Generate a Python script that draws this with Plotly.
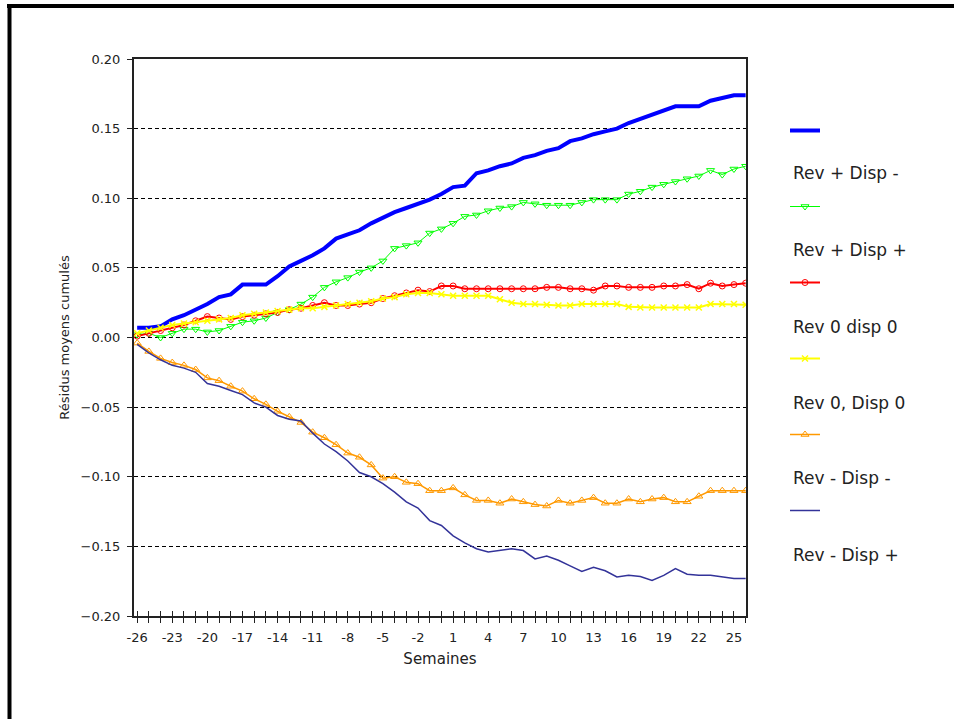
import plotly.graph_objects as go

# ---------------- data ----------------
weeks = list(range(-26, 27))

tick_weeks = list(range(-26, 27))
tick_labels = [str(w) if (w + 26) % 3 == 0 else "" for w in tick_weeks]

y_ticks = [-0.20, -0.15, -0.10, -0.05, 0.00, 0.05, 0.10, 0.15, 0.20]

series_names = ["Rev + Disp -", "Rev + Disp +", "Rev 0 disp 0",
                "Rev 0, Disp 0", "Rev - Disp -", "Rev - Disp +"]

blue_thick = [0.007, 0.007, 0.008, 0.013, 0.016, 0.020, 0.024, 0.029, 0.031, 0.038,
              0.038, 0.038, 0.044, 0.051, 0.055, 0.059, 0.064, 0.071, 0.074, 0.077,
              0.082, 0.086, 0.090, 0.093, 0.096, 0.099, 0.103, 0.108, 0.109, 0.118,
              0.120, 0.123, 0.125, 0.129, 0.131, 0.134, 0.136, 0.141, 0.143, 0.146,
              0.148, 0.150, 0.154, 0.157, 0.160, 0.163, 0.166, 0.166, 0.166, 0.170,
              0.172, 0.174, 0.174]

green = [0.002, 0.003, 0.000, 0.003, 0.006, 0.006, 0.004, 0.005, 0.008, 0.011,
         0.012, 0.014, 0.018, 0.020, 0.024, 0.029, 0.036, 0.040, 0.043, 0.047,
         0.050, 0.055, 0.064, 0.066, 0.068, 0.075, 0.078, 0.082, 0.087, 0.088,
         0.091, 0.093, 0.094, 0.097, 0.096, 0.095, 0.095, 0.095, 0.097, 0.099,
         0.099, 0.099, 0.103, 0.105, 0.108, 0.110, 0.112, 0.114, 0.116, 0.120,
         0.117, 0.121, 0.123]

red = [0.001, 0.003, 0.005, 0.007, 0.009, 0.012, 0.015, 0.014, 0.013, 0.015,
       0.016, 0.017, 0.018, 0.020, 0.021, 0.023, 0.025, 0.023, 0.023, 0.024,
       0.025, 0.028, 0.030, 0.032, 0.034, 0.033, 0.037, 0.037, 0.035, 0.035,
       0.035, 0.035, 0.035, 0.035, 0.035, 0.036, 0.036, 0.035, 0.035, 0.034,
       0.037, 0.037, 0.036, 0.036, 0.036, 0.037, 0.037, 0.038, 0.035, 0.039,
       0.037, 0.038, 0.039]

yellow = [0.003, 0.005, 0.007, 0.009, 0.010, 0.011, 0.012, 0.013, 0.014, 0.016,
          0.017, 0.018, 0.019, 0.020, 0.021, 0.021, 0.022, 0.023, 0.024, 0.025,
          0.026, 0.028, 0.029, 0.031, 0.032, 0.032, 0.031, 0.030, 0.030, 0.030,
          0.030, 0.0275, 0.025, 0.024, 0.024, 0.0235, 0.023, 0.023, 0.024, 0.024,
          0.024, 0.024, 0.022, 0.0215, 0.0215, 0.0215, 0.0215, 0.0215, 0.0215, 0.024,
          0.024, 0.024, 0.0235]

orange = [-0.004, -0.010, -0.015, -0.018, -0.020, -0.023, -0.029, -0.031, -0.035, -0.0385,
          -0.044, -0.048, -0.053, -0.057, -0.061, -0.068, -0.072, -0.077, -0.083, -0.086,
          -0.0915, -0.101, -0.100, -0.104, -0.105, -0.110, -0.110, -0.108, -0.113, -0.117,
          -0.117, -0.119, -0.116, -0.118, -0.120, -0.121, -0.117, -0.119, -0.117, -0.115,
          -0.119, -0.119, -0.116, -0.118, -0.116, -0.115, -0.118, -0.118, -0.114, -0.110,
          -0.110, -0.110, -0.110]

navy = [-0.005, -0.011, -0.016, -0.020, -0.022, -0.025, -0.033, -0.035, -0.038, -0.041,
        -0.047, -0.050, -0.056, -0.0587, -0.060, -0.0687, -0.0765, -0.082, -0.0887, -0.097,
        -0.100, -0.105, -0.111, -0.118, -0.1225, -0.1315, -0.135, -0.1425, -0.1475, -0.1517,
        -0.154, -0.153, -0.1517, -0.153, -0.159, -0.157, -0.160, -0.164, -0.168, -0.165,
        -0.1675, -0.172, -0.1708, -0.1717, -0.1745, -0.1708, -0.166, -0.170, -0.1708, -0.1708,
        -0.172, -0.173, -0.173]

# ---------------- styling ----------------
W, H = 954, 719
L, R, T, B = 134, 746, 59, 616   # plot area in pixels

FONT = "DejaVu Sans"
INK = "#222222"

def px_x(p):
    return (p - L) / (R - L)

def px_y(p):
    return (B - p) / (B - T)

fig = go.Figure()

styles = [
    (blue_thick, dict(color="#0000FF", width=4), None),
    (green, dict(color="#00FF00", width=1), dict(symbol="triangle-down-open", size=7, color="#00FF00")),
    (red, dict(color="#FF0000", width=2), dict(symbol="circle-open", size=6, color="#FF0000")),
    (yellow, dict(color="#FFFF00", width=2), dict(symbol="x-thin-open", size=6, color="#FFFF00", line=dict(width=1.5, color="#FFFF00"))),
    (orange, dict(color="#FF9900", width=1.5), dict(symbol="triangle-up-open", size=7, color="#FF9900")),
    (navy, dict(color="#333399", width=1.5), None),
]

for i, (vals, line, marker) in enumerate(styles):
    kw = dict(x=weeks, y=vals, line=line, name="", legendgroup=f"g{i}",
              showlegend=True, hoverinfo="skip")
    if marker is None:
        kw["mode"] = "lines"
    else:
        kw["mode"] = "lines+markers"
        kw["marker"] = marker
    fig.add_trace(go.Scatter(**kw))

# invisible trace carrying the overlay tick axis
fig.add_trace(go.Scatter(x=weeks, y=blue_thick, xaxis="x2", mode="lines",
                         line=dict(width=0), opacity=0, showlegend=False,
                         hoverinfo="skip"))

xrange_ = [-26.27, 26.03]

fig.update_layout(
    width=W, height=H,
    margin=dict(l=L, r=W - R, t=T, b=H - B, pad=0),
    paper_bgcolor="white", plot_bgcolor="white",
    font=dict(family=FONT, size=12, color=INK),
    xaxis=dict(
        range=xrange_, tickvals=tick_weeks, ticktext=tick_labels,
        ticks="outside", ticklen=5, tickwidth=1, tickcolor=INK,
        ticklabelstandoff=3,
        showline=True, linecolor=INK, linewidth=2, mirror=True,
        showgrid=False, zeroline=False,
        tickfont=dict(family=FONT, size=13, color=INK),
        title=dict(text="Semaines", font=dict(family=FONT, size=15, color=INK), standoff=10),
    ),
    xaxis2=dict(
        range=xrange_, overlaying="x", anchor="y", side="bottom",
        tickvals=tick_weeks, showticklabels=False,
        ticks="inside", ticklen=5, tickwidth=1, tickcolor=INK,
        showline=False, showgrid=False, zeroline=False,
    ),
    yaxis=dict(
        range=[-0.20, 0.20], tickvals=y_ticks, tickformat=".2f",
        ticks="outside", ticklen=5, tickwidth=1, tickcolor=INK,
        ticklabelstandoff=4,
        showline=True, linecolor=INK, linewidth=2, mirror=True,
        showgrid=True, gridcolor="#000000", gridwidth=1, griddash="4px,3px",
        zeroline=False,
        tickfont=dict(family=FONT, size=13, color=INK),
        title=dict(text="Résidus moyens cumulés", font=dict(family=FONT, size=13, color=INK), standoff=8),
    ),
    legend=dict(
        x=px_x(785), y=px_y(116), xanchor="left", yanchor="top",
        bgcolor="rgba(0,0,0,0)", borderwidth=0,
        font=dict(family=FONT, size=12), tracegroupgap=57,
        itemwidth=30, traceorder="grouped",
    ),
)

# legend labels (text sits below each symbol, as in the reference)
label_y = [173, 250, 327, 403, 478, 555]
for name, yy in zip(series_names, label_y):
    fig.add_annotation(text=name, xref="paper", yref="paper",
                       x=px_x(791), y=px_y(yy), xanchor="left", yanchor="middle",
                       showarrow=False, font=dict(family=FONT, size=17, color=INK))

# outer frame (top and left edges of the picture)
fig.add_shape(type="line", xref="paper", yref="paper",
              x0=px_x(7), x1=px_x(W + 5), y0=px_y(6), y1=px_y(6),
              line=dict(color="black", width=4))
fig.add_shape(type="line", xref="paper", yref="paper",
              x0=px_x(9.5), x1=px_x(9.5), y0=px_y(4), y1=px_y(H + 5),
              line=dict(color="black", width=4))

fig.write_html("out.html")
